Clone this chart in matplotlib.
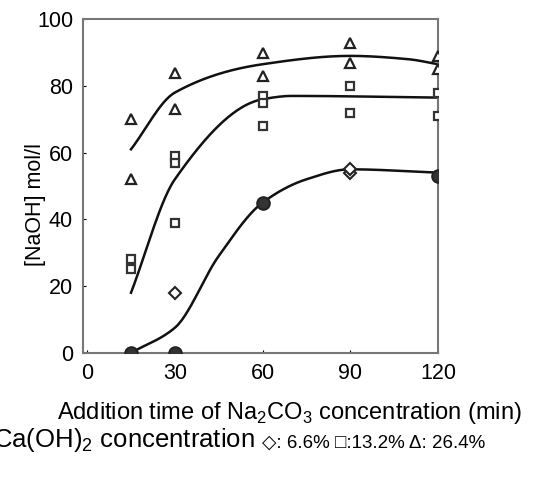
import numpy as np
import matplotlib
matplotlib.use("Agg")
import matplotlib.pyplot as plt

plt.rcParams['font.family'] = ['Liberation Sans', 'DejaVu Sans']
plt.rcParams['mathtext.fontset'] = 'custom'
plt.rcParams['mathtext.rm'] = 'Liberation Sans'

# measured points, Ca(OH)2 concentration
dia_x = [15, 30, 30, 60, 90, 90, 120]
dia_y = [0, 0, 18, 45, 54, 55, 53]
dia_filled = [True, True, False, True, False, False, True]

sq_x = [15, 15, 30, 30, 30, 60, 60, 60, 90, 90, 120, 120]
sq_y = [28, 25, 59, 57, 39, 77, 75, 68, 80, 72, 78, 71]

tri_x = [15, 15, 30, 30, 60, 60, 90, 90, 120, 120]
tri_y = [70, 52, 84, 73, 90, 83, 93, 87, 89, 85]

# hand drawn trend curves (knots)
top_kx = [15, 30, 60, 90, 110, 120]
top_ky = [61, 78, 86.5, 89, 88, 86.5]
mid_kx = [15, 30, 60, 70, 120]
mid_ky = [18, 52, 76, 77, 76.5]
low_kx = [15, 30, 45, 60, 75, 90, 120]
low_ky = [0, 7.5, 29, 45, 52, 55, 54]


def pchip(xk, yk, xs):
    xk = np.asarray(xk, float)
    yk = np.asarray(yk, float)
    h = np.diff(xk)
    d = np.diff(yk) / h
    n = len(xk)
    m = np.zeros(n)
    for i in range(1, n - 1):
        if d[i - 1] * d[i] > 0:
            w1 = 2 * h[i] + h[i - 1]
            w2 = h[i] + 2 * h[i - 1]
            m[i] = (w1 + w2) / (w1 / d[i - 1] + w2 / d[i])
    m[0] = d[0]
    m[-1] = d[-1]
    out = []
    for x in xs:
        i = min(np.searchsorted(xk, x) - 1, n - 2)
        i = max(i, 0)
        t = (x - xk[i]) / h[i]
        h00 = 2 * t**3 - 3 * t**2 + 1
        h10 = t**3 - 2 * t**2 + t
        h01 = -2 * t**3 + 3 * t**2
        h11 = t**3 - t**2
        out.append(h00 * yk[i] + h10 * h[i] * m[i] + h01 * yk[i + 1] + h11 * h[i] * m[i + 1])
    return np.array(out)


fig = plt.figure(figsize=(5.34, 4.8), dpi=100)
ax = fig.add_axes([0.155, 0.265, 0.665, 0.695])

for kx, ky in [(top_kx, top_ky), (mid_kx, mid_ky), (low_kx, low_ky)]:
    xs = np.linspace(kx[0], kx[-1], 200)
    ax.plot(xs, pchip(kx, ky, xs), color='#111111', lw=1.8, zorder=2)

for x, y, f in zip(dia_x, dia_y, dia_filled):
    ax.plot(x, y, marker='D' if not f else 'o', ms=6 if not f else 9,
            mfc='#333333' if f else 'white', mec='#222222', mew=1.5, zorder=3)
ax.plot(sq_x, sq_y, ls='none', marker='s', ms=6, mfc='white', mec='#333333', mew=1.6, zorder=3)
ax.plot(tri_x, tri_y, ls='none', marker='^', ms=7, mfc='white', mec='#222222', mew=1.6, zorder=3)

ax.set_xlim(-1.5, 120)
ax.set_ylim(0, 100)
ax.set_xticks([0, 30, 60, 90, 120])
ax.set_yticks([0, 20, 40, 60, 80, 100])
ax.tick_params(direction='in', length=2, labelsize=15.5, pad=7)
for s in ax.spines.values():
    s.set_color('#777777')
    s.set_linewidth(1.5)

fig.text(0.067, 0.573, '[NaOH] mol/l', rotation=90, ha='center', va='center', fontsize=15.5)
fig.text(0.541, 0.140, r'Addition time of Na$_2$CO$_3$ concentration (min)',
         ha='center', va='center', fontsize=17)
fig.text(-0.013, 0.083, r'Ca(OH)$_2$ concentration', ha='left', va='center', fontsize=18.5)
fig.text(0.49, 0.077, '◇: 6.6% □:13.2% Δ: 26.4%', ha='left', va='center', fontsize=13.5)

fig.savefig('out.png', dpi=100)
